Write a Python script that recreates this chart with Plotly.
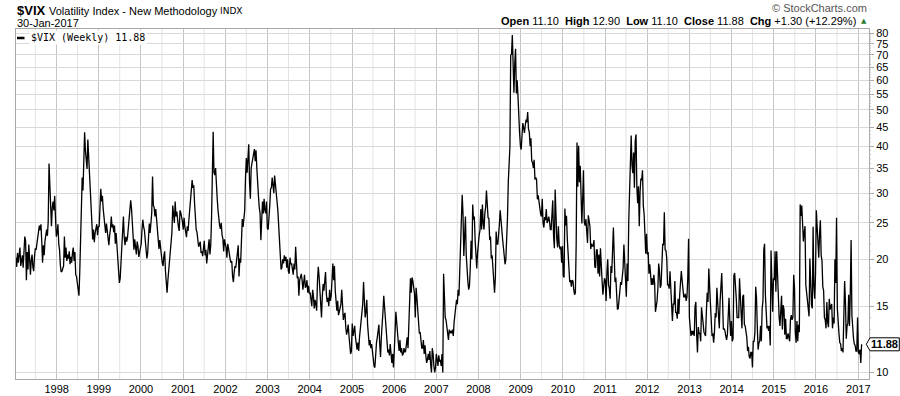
import math
import pandas as pd
import plotly.graph_objects as go

# ---------------- data (weekly closes) ----------------
vix_1997 = [19.5, 20.2, 19.1, 20.8, 19.6, 20.3, 21.5, 19.2, 19.8, 20.5, 19.0, 21.8, 23.0,
            22.4, 17.6, 20.9, 18.8, 21.9, 19.4, 18.2, 19.9, 20.6, 19.1, 18.6, 20.3, 21.4,
            21.2, 22.0, 22.6, 24.1, 24.6, 23.9, 24.8, 22.3, 19.6, 21.8, 20.5, 22.4, 23.6,
            24.0, 23.1, 25.3, 36.0, 32.0, 26.0, 24.5, 27.5, 28.5, 27.0, 29.5, 25.8, 23.0]
vix_1998 = [23.5, 24.8, 22.0, 21.2, 19.3, 18.5, 18.6, 19.0, 19.2, 23.0, 20.2, 21.5, 19.8,
            20.6, 20.1, 21.0, 19.4, 20.3, 19.6, 20.8, 21.5, 19.8, 20.9, 18.2, 18.0, 17.3,
            16.5, 16.0, 18.5, 22.4, 29.0, 33.0, 30.5, 37.5, 43.6, 39.0, 37.5, 34.8, 41.7,
            37.5, 33.0, 29.5, 27.8, 26.0, 22.6, 24.0, 22.2, 23.5, 24.1, 24.8, 23.2, 24.5]
vix_1999 = [24.4, 26.8, 30.8, 28.5, 29.5, 27.2, 25.8, 24.5, 23.5, 24.9, 23.8, 22.0, 21.8,
            23.2, 24.1, 26.0, 24.3, 24.8, 23.6, 24.6, 22.0, 23.5, 21.8, 19.5, 18.2, 17.3,
            17.8, 19.6, 20.5, 24.2, 26.0, 22.9, 21.8, 23.0, 22.3, 22.8, 24.2, 24.6, 25.8,
            28.7, 27.3, 25.0, 22.5, 21.2, 22.6, 21.5, 20.6, 22.3, 21.7, 20.3, 20.8, 21.2]
vix_2000 = [22.0, 24.0, 25.5, 24.4, 23.9, 22.5, 21.0, 20.1, 20.8, 22.8, 24.9, 23.5, 25.5,
            26.5, 33.2, 27.8, 27.5, 26.0, 27.2, 25.4, 24.0, 22.0, 21.3, 22.5, 20.8,
            20.5, 19.6, 19.2, 20.4, 21.0, 18.6, 17.2, 16.3, 17.6, 18.8, 20.4, 21.6, 22.0,
            23.6, 27.8, 26.8, 25.0, 28.5, 26.0, 26.8, 25.2, 24.4, 23.8, 27.0, 26.6, 26.0, 25.2]
vix_2001 = [24.0, 25.8, 24.4, 23.5, 22.9, 24.5, 23.8, 25.5, 27.0, 28.0, 30.5, 32.5, 31.0,
            31.5, 28.2, 25.8, 24.0, 23.6, 22.5, 21.6, 21.9, 22.3, 20.8, 21.0, 20.4, 21.8,
            22.4, 20.5, 21.2, 19.5, 20.3, 21.0, 22.6, 20.6, 21.8, 25.8, 31.8, 43.7, 34.0,
            33.5, 35.0, 30.3, 29.0, 27.0, 25.4, 24.6, 24.1, 25.0, 23.2, 22.7, 21.0, 22.6, 22.0]
vix_2002 = [21.5, 20.2, 22.0, 21.4, 20.3, 20.0, 19.6, 19.8, 18.0, 17.4, 18.5, 19.2,
            19.0, 20.2, 21.6, 21.8, 18.0, 20.1, 19.6, 23.6, 25.6, 24.4, 25.8, 27.0, 33.0,
            37.2, 34.0, 37.5, 40.5, 32.0, 29.0, 35.0, 36.0, 37.5, 38.5, 39.3, 36.5, 39.0, 35.0,
            30.0, 29.5, 27.5, 26.5, 22.5, 26.5, 28.5, 26.5, 29.0, 27.0, 26.5, 28.5, 24.2]
vix_2003 = [24.0, 25.5, 27.8, 30.8, 31.0, 33.0, 31.5, 30.0, 33.4, 31.0, 29.8, 28.5, 27.0,
            24.5, 22.0, 20.7, 18.8, 19.0, 20.0, 19.5, 20.5, 19.8, 20.3, 19.0, 20.0, 18.6,
            18.3, 20.2, 19.4, 19.5, 19.0, 18.2, 19.5, 18.8, 21.6, 19.5, 17.8, 18.0, 16.0,
            17.6, 18.0, 18.3, 17.6, 16.6, 17.4, 18.2, 16.8, 17.0, 17.6, 16.3, 17.0, 16.2]
vix_2004 = [16.3, 15.5, 15.0, 16.6, 16.0, 14.8, 15.6, 15.2, 14.6, 17.5, 19.1, 18.0, 16.8,
            15.2, 14.0, 16.0, 17.2, 16.5, 17.2, 18.5, 16.2, 15.4, 15.8, 15.0, 16.6, 15.5,
            16.0, 17.8, 19.5, 17.6, 19.2, 16.5, 15.3, 14.6, 15.5, 14.2, 14.5, 14.8, 15.2,
            16.6, 15.2, 13.8, 14.2, 14.4, 13.2, 12.6, 12.9, 13.4, 12.5, 11.8, 11.2, 11.4]
vix_2005 = [13.5, 12.5, 12.8, 13.3, 12.4, 11.6, 11.5, 12.0, 11.4, 12.4, 13.0, 13.4, 14.0,
            15.2, 17.4, 15.0, 14.0, 14.5, 15.6, 13.4, 12.4, 11.8, 12.2, 11.6, 11.9, 11.3,
            11.0, 10.4, 10.3, 11.8, 12.0, 12.4, 13.0, 13.4, 11.9, 11.0, 12.4, 13.2, 14.5,
            16.0, 14.8, 13.5, 13.0, 12.0, 11.3, 11.5, 11.1, 11.9, 11.3, 10.6, 11.2, 10.3]
vix_2006 = [11.4, 12.6, 14.5, 13.6, 12.4, 12.0, 11.4, 12.2, 11.3, 11.6, 11.1, 11.2, 11.6,
            11.3, 11.4, 12.2, 12.4, 11.6, 13.8, 17.0, 17.8, 16.3, 17.9, 17.5, 16.4, 16.2,
            14.0, 16.8, 15.8, 14.8, 13.8, 12.7, 12.8, 12.2, 11.6, 11.6, 12.2, 11.2, 11.8,
            11.1, 10.6, 10.8, 11.2, 10.8, 11.4, 10.5, 10.0, 11.6, 11.2, 10.4, 10.0, 10.3]
vix_2007 = [11.2, 10.8, 10.4, 11.1, 10.7, 10.8, 10.4, 11.2, 10.0, 18.3, 15.8, 14.0, 13.8,
            13.2, 12.4, 12.2, 13.0, 12.7, 12.9, 12.7, 13.0, 12.5, 13.6, 14.2, 14.6, 15.6,
            15.2, 16.6, 16.0, 19.5, 24.5, 25.5, 29.7, 26.5, 20.4, 24.8, 26.0, 20.5, 18.0,
            17.5, 16.6, 17.0, 19.0, 22.4, 20.0, 28.0, 25.5, 26.0, 22.5, 20.3, 18.9, 20.8, 22.5]
vix_2008 = [23.2, 23.9, 27.2, 24.0, 28.0, 25.0, 24.0, 26.5, 27.5, 30.5, 26.5, 25.8, 25.7,
            22.5, 23.0, 20.1, 20.5, 18.2, 17.6, 16.3, 17.8, 23.7, 22.0, 21.9, 23.1, 24.8,
            27.0, 25.0, 22.9, 22.6, 21.5, 20.7, 19.4, 20.0, 22.2, 25.7, 32.1, 34.7, 39.8,
            69.9, 70.3, 79.1, 59.9, 55.5, 66.3, 72.7, 55.3, 59.9, 54.3, 44.9, 43.4, 40.0]
vix_2009 = [39.2, 42.8, 46.1, 44.8, 43.4, 45.5, 47.1, 46.3, 49.3, 44.5, 43.6, 40.0, 42.0,
            36.5, 36.2, 35.0, 36.8, 32.6, 33.0, 32.6, 28.9, 29.6, 28.1, 27.9, 26.4, 26.0,
            29.0, 25.0, 24.3, 25.9, 25.4, 27.2, 25.0, 25.3, 26.0, 25.3, 24.0, 24.0, 25.6,
            28.7, 23.1, 21.4, 30.7, 24.2, 22.7, 21.5, 24.5, 21.8, 21.3, 21.6, 19.6, 21.7]
vix_2010 = [18.1, 17.9, 27.3, 24.6, 26.1, 22.7, 20.0, 19.5, 17.4, 17.6, 16.9, 17.6, 17.5,
            16.6, 16.1, 16.3, 22.1, 40.9, 31.2, 40.1, 32.1, 35.5, 28.8, 24.9, 29.0, 34.5,
            25.1, 24.6, 25.6, 23.5, 22.1, 26.2, 25.5, 24.5, 21.3, 22.0, 21.7, 21.7, 22.5,
            19.1, 19.0, 21.2, 21.2, 18.3, 20.6, 18.0, 21.4, 18.0, 17.6, 16.1, 17.5, 17.8]
vix_2011 = [17.6, 15.5, 18.5, 20.0, 17.1, 16.7, 15.7, 19.2, 18.4, 21.3, 24.3, 20.6, 17.4,
            17.9, 15.3, 14.7, 14.8, 15.9, 17.0, 17.4, 17.1, 18.3, 18.9, 21.9, 18.9, 16.5,
            15.9, 19.5, 17.5, 25.3, 32.0, 36.4, 42.7, 35.6, 33.9, 38.5, 31.0, 41.3, 43.0,
            31.3, 28.2, 31.3, 24.5, 30.2, 32.8, 32.5, 34.5, 27.8, 26.4, 23.5, 20.7, 23.4]
vix_2012 = [20.6, 20.9, 18.3, 19.4, 18.5, 17.1, 17.8, 17.1, 18.2, 17.3, 14.5, 15.0, 15.5,
            16.7, 19.5, 18.6, 16.8, 17.1, 19.9, 22.0, 21.8, 26.7, 21.2, 21.1, 20.1, 17.1,
            17.1, 16.7, 18.6, 16.7, 15.6, 13.7, 15.2, 15.2, 17.5, 14.4, 14.5, 13.9, 15.7,
            14.3, 16.1, 18.0, 18.6, 17.6, 16.4, 15.9, 15.9, 16.2, 15.5, 15.9, 17.8, 22.7, 14.0]
vix_2013 = [13.4, 12.5, 12.9, 12.6, 12.9, 12.5, 15.0, 15.4, 12.6, 11.3, 13.2, 12.7,
            12.7, 12.1, 14.9, 13.6, 13.5, 12.8, 12.6, 12.5, 14.5, 16.3, 15.4, 18.9, 16.9,
            14.9, 14.0, 12.5, 12.7, 12.0, 12.8, 14.4, 14.0, 16.8, 15.4, 14.2, 13.1, 15.5, 16.6,
            18.4, 15.7, 13.0, 13.1, 12.9, 12.5, 12.2, 12.6, 13.8, 15.8, 13.8, 12.5, 13.7]
vix_2014 = [12.1, 12.3, 18.1, 18.4, 17.2, 15.7, 14.0, 14.0, 14.0, 17.8, 15.0, 14.4, 13.1,
            15.9, 16.1, 13.4, 13.3, 12.9, 12.4, 11.4, 11.7, 11.0, 10.9, 11.3, 11.3, 10.3,
            12.1, 12.1, 12.7, 16.9, 15.8, 13.2, 11.5, 12.0, 12.1, 13.3, 12.1, 14.8, 15.5,
            21.2, 22.0, 16.1, 14.0, 13.1, 13.3, 12.9, 13.3, 11.8, 21.1, 16.5, 14.5, 17.8]
vix_2015 = [17.6, 21.0, 16.4, 21.0, 17.3, 14.7, 14.0, 13.3, 15.2, 16.0, 13.0, 15.1, 14.7,
            12.6, 13.9, 12.3, 12.3, 12.7, 12.4, 12.1, 13.8, 14.2, 13.8, 14.0, 18.2, 16.8,
            12.8, 12.0, 13.7, 12.1, 13.4, 12.8, 28.0, 26.1, 27.8, 23.6, 22.3, 23.6, 24.5,
            17.1, 16.2, 15.0, 14.5, 14.1, 20.1, 15.5, 15.1, 14.8, 24.4, 16.9, 15.7, 18.2]
vix_2016 = [27.0, 24.4, 22.3, 20.2, 23.4, 25.4, 20.5, 19.8, 16.9, 16.5, 14.0, 13.8, 13.1,
            15.4, 13.6, 13.2, 15.7, 14.7, 15.0, 15.2, 13.1, 14.0, 13.5, 20.0, 17.3, 25.8,
            14.8, 13.2, 12.7, 12.0, 11.9, 11.4, 11.6, 11.3, 13.7, 17.5, 15.4, 12.3, 13.3,
            13.5, 16.1, 13.3, 16.2, 22.5, 14.2, 12.9, 12.3, 11.9, 11.8, 11.4, 11.4, 14.0]
vix_2017 = [11.3, 11.2, 11.5, 10.6, 11.88]

weekly = {1997: vix_1997, 1998: vix_1998, 1999: vix_1999, 2000: vix_2000,
          2001: vix_2001, 2002: vix_2002, 2003: vix_2003, 2004: vix_2004,
          2005: vix_2005, 2006: vix_2006, 2007: vix_2007, 2008: vix_2008,
          2009: vix_2009, 2010: vix_2010, 2011: vix_2011, 2012: vix_2012,
          2013: vix_2013, 2014: vix_2014, 2015: vix_2015, 2016: vix_2016,
          2017: vix_2017}

year_labels = [str(y) for y in range(1998, 2018)]
y_ticks = [10, 15, 20, 25, 30, 35, 40, 45, 50, 55, 60, 65, 70, 75, 80]
last_value = 11.88

dates, values = [], []
for yr, vals in weekly.items():
    mondays = pd.date_range(f"{yr}-01-01", f"{yr}-12-31", freq="W-MON")
    for d, v in zip(mondays, vals):
        dates.append(d)
        values.append(v)

# ---------------- figure ----------------
W, H = 900, 396
ML, MR, MT, MB = 16, 31, 29, 17
PW, PH = W - ML - MR, H - MT - MB
YLO, YHI = 0.98245, 1.9141
X0, X1 = "1997-01-14", "2017-04-04"

def px(xp):
    return (xp - ML) / PW

def py(yp):
    return (H - MB - yp) / PH

def ypaper(v):
    return (math.log10(v) - YLO) / (YHI - YLO)

FONT = "Liberation Sans, Arial, sans-serif"

fig = go.Figure()
fig.add_trace(go.Scatter(x=dates, y=values, mode="lines",
                         line=dict(color="#000000", width=1.3),
                         hoverinfo="skip", showlegend=False))

fig.update_layout(
    width=W, height=H,
    margin=dict(l=ML, r=MR, t=MT, b=MB, pad=0, autoexpand=False),
    paper_bgcolor="white", plot_bgcolor="white",
    font=dict(family=FONT, size=11, color="#000"),
    showlegend=False,
)

fig.update_xaxes(
    type="date", automargin=False,
    range=[X0, X1],
    tickmode="array",
    tickvals=[f"{y}-01-01" for y in range(1998, 2018)],
    ticktext=year_labels,
    ticks="", showgrid=True, gridcolor="#c6c6c6", gridwidth=1,
    showline=True, linecolor="#a8a8a8", linewidth=1, mirror=True,
    tickfont=dict(family=FONT, size=11, color="#000"),
    zeroline=False,
)

fig.update_yaxes(
    type="log", side="right", automargin=False,
    range=[YLO, YHI],
    tickmode="array",
    tickvals=y_ticks, ticktext=[str(t) for t in y_ticks],
    showgrid=True, gridcolor="#d9d9d9", gridwidth=1,
    ticks="outside", ticklen=4, tickcolor="#a8a8a8",
    showline=True, linecolor="#a8a8a8", linewidth=1, mirror=True,
    tickfont=dict(family=FONT, size=11, color="#000"),
    zeroline=False,
)

ann = []
ann.append(dict(x=px(15), y=py(10.5), xref="paper", yref="paper", xanchor="left", yanchor="middle",
                text="<b>$VIX</b>", showarrow=False, font=dict(family=FONT, size=13, color="#000")))
ann.append(dict(x=px(47), y=py(11.5), xref="paper", yref="paper", xanchor="left", yanchor="middle",
                text="Volatility Index - New Methodology", showarrow=False,
                font=dict(family=FONT, size=11, color="#000")))
ann.append(dict(x=px(218), y=py(11.5), xref="paper", yref="paper", xanchor="left", yanchor="middle",
                text="INDX", showarrow=False, font=dict(family="DejaVu Sans, sans-serif", size=9, color="#000")))
ann.append(dict(x=px(15), y=py(22.5), xref="paper", yref="paper", xanchor="left", yanchor="middle",
                text="30-Jan-2017", showarrow=False, font=dict(family=FONT, size=11, color="#000")))
ann.append(dict(x=px(869), y=py(7.5), xref="paper", yref="paper", xanchor="right", yanchor="middle",
                text="© StockCharts.com", showarrow=False, font=dict(family=FONT, size=11, color="#555")))
ann.append(dict(x=px(858), y=py(20.5), xref="paper", yref="paper", xanchor="right", yanchor="middle",
                text="<b>Open</b> 11.10  <b>High</b> 12.90  <b>Low</b> 11.10  <b>Close</b> 11.88  <b>Chg</b> +1.30 (+12.29%)",
                showarrow=False, font=dict(family=FONT, size=11, color="#000")))
ann.append(dict(x=px(868.5), y=py(20.5), xref="paper", yref="paper", xanchor="right", yanchor="middle",
                text="▲", showarrow=False, font=dict(family="DejaVu Sans, sans-serif", size=7, color="#2e7d32")))
ann.append(dict(x=px(29), y=py(38), xref="paper", yref="paper", xanchor="left", yanchor="middle",
                text="$VIX (Weekly) 11.88", showarrow=False, bgcolor="white",
                font=dict(family="DejaVu Sans Mono, monospace", size=10, color="#000")))
yc = ypaper(last_value)
ann.append(dict(x=px(884.8), y=yc, xref="paper", yref="paper", xanchor="center", yanchor="middle",
                text=f"<b>{last_value:.2f}</b>", showarrow=False,
                font=dict(family=FONT, size=11, color="#000")))
fig.update_layout(annotations=ann)

shapes = []
# mid-year (lighter) vertical gridlines
for yr in range(1997, 2017):
    shapes.append(dict(type="line", xref="x", yref="paper", x0=f"{yr}-07-01", x1=f"{yr}-07-01",
                       y0=0, y1=1, layer="below", line=dict(color="#e3e3e3", width=1)))
# minor ticks on the right axis
for v in range(11, 81):
    if v % 5:
        yy = ypaper(v)
        shapes.append(dict(type="line", xref="paper", yref="paper", x0=1, x1=px(871),
                           y0=yy, y1=yy, line=dict(color="#b8b8b8", width=1)))
# legend dash
shapes.append(dict(type="line", xref="paper", yref="paper", x0=px(17), x1=px(24.5),
                   y0=py(38), y1=py(38), line=dict(color="#000", width=2.5)))
# last value tag
hh = 6.5 / PH
shapes.append(dict(type="path", xref="paper", yref="paper",
                   path=(f"M {px(866.3)},{yc} L {px(870)},{yc+hh} L {px(899.3)},{yc+hh} "
                         f"L {px(899.3)},{yc-hh} L {px(870)},{yc-hh} Z"),
                   line=dict(color="#000", width=1), fillcolor="white"))
fig.update_layout(shapes=shapes)

fig.write_html("out.html", config={"displayModeBar": False, "staticPlot": True})
with open("out.html", "r", encoding="utf-8") as f:
    html = f.read()
html = html.replace("<head>", "<head><style>html,body{margin:0;padding:0;overflow:hidden;}</style>", 1)
with open("out.html", "w", encoding="utf-8") as f:
    f.write(html)
